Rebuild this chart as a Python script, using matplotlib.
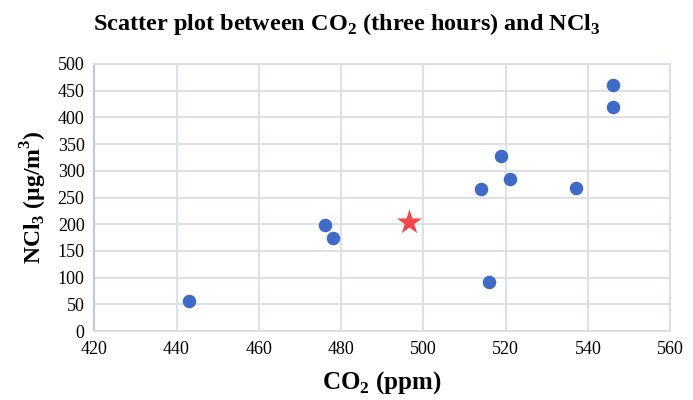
import matplotlib
matplotlib.use("Agg")
from matplotlib import pyplot as plt

# measured points
co2 = [443, 476, 478, 514, 516, 519, 521, 537, 546, 546]
ncl3 = [57, 199, 174, 265, 92, 327, 285, 267, 460, 420]

# highlighted point (star)
star_co2 = [496.5]
star_ncl3 = [204]

x_ticks = list(range(420, 561, 20))
y_ticks = list(range(0, 501, 50))

plt.rcParams["font.family"] = ["Liberation Serif", "DejaVu Serif"]
plt.rcParams["mathtext.fontset"] = "custom"
plt.rcParams["mathtext.rm"] = "Liberation Serif"
plt.rcParams["mathtext.bf"] = "Liberation Serif:bold"

fig = plt.figure(figsize=(6.93, 4.0), dpi=100)
ax = fig.add_axes([0.136, 0.1725, 0.831, 0.6675])

ax.scatter(co2, ncl3, s=95, color="#3f6bc6", zorder=3, linewidths=0)
ax.scatter(star_co2, star_ncl3, s=360, marker="*", color="#f2474a", zorder=3, linewidths=0)

ax.set_xlim(420, 560)
ax.set_ylim(0, 500)
ax.set_xticks(x_ticks)
ax.set_yticks(y_ticks)
ax.grid(True, color="#d9dde6", linewidth=1.3)
ax.set_axisbelow(True)
for side in ["top", "right", "bottom"]:
    ax.spines[side].set_color("#d9dde6")
    ax.spines[side].set_linewidth(1.3)
ax.spines["left"].set_color("#b8c4da")
ax.spines["left"].set_linewidth(1.3)
ax.tick_params(length=0, labelsize=13, pad=7)

ax.set_xlabel(r"CO$_\mathbf{2}$ (ppm)", fontsize=18, fontweight="bold", labelpad=8)
ax.set_ylabel(r"NCl$_\mathbf{3}$ (µg/m$^\mathbf{3}$)", fontsize=17, fontweight="bold", labelpad=6)
fig.text(0.5, 0.94, r"Scatter plot between CO$_\mathbf{2}$ (three hours) and NCl$_\mathbf{3}$",
         ha="center", va="center", fontsize=17.5, fontweight="bold")

fig.savefig("out.png", dpi=100)
